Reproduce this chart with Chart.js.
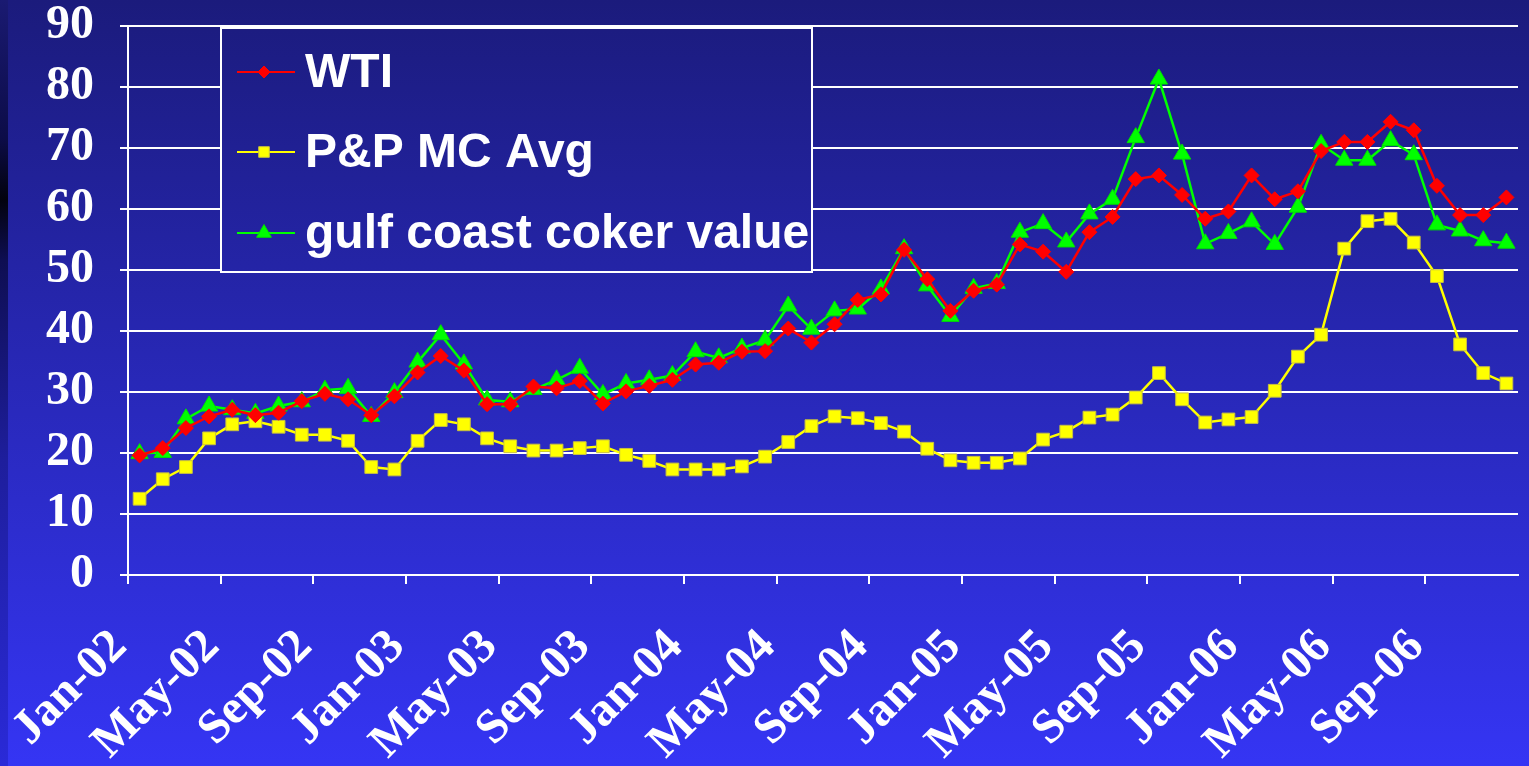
<!DOCTYPE html>
<html>
<head>
<meta charset="utf-8">
<script src="https://cdn.jsdelivr.net/npm/chart.js@4.4.1/dist/chart.umd.min.js"></script>
<style>
    html, body { margin: 0; padding: 0; background: #2626c0; overflow: hidden; }
    #wrap { position: relative; width: 1529px; height: 766px; }
</style>
</head>
<body>
<div id="wrap">
    <canvas id="oil-chart" width="1529" height="766"></canvas>
</div>
<script>
var months = [
    'Jan-02', 'Feb-02', 'Mar-02', 'Apr-02', 'May-02', 'Jun-02', 'Jul-02', 'Aug-02', 'Sep-02', 'Oct-02', 'Nov-02', 'Dec-02',
    'Jan-03', 'Feb-03', 'Mar-03', 'Apr-03', 'May-03', 'Jun-03', 'Jul-03', 'Aug-03', 'Sep-03', 'Oct-03', 'Nov-03', 'Dec-03',
    'Jan-04', 'Feb-04', 'Mar-04', 'Apr-04', 'May-04', 'Jun-04', 'Jul-04', 'Aug-04', 'Sep-04', 'Oct-04', 'Nov-04', 'Dec-04',
    'Jan-05', 'Feb-05', 'Mar-05', 'Apr-05', 'May-05', 'Jun-05', 'Jul-05', 'Aug-05', 'Sep-05', 'Oct-05', 'Nov-05', 'Dec-05',
    'Jan-06', 'Feb-06', 'Mar-06', 'Apr-06', 'May-06', 'Jun-06', 'Jul-06', 'Aug-06', 'Sep-06', 'Oct-06', 'Nov-06', 'Dec-06'
];

var wti = [
    19.6, 20.8, 24.1, 26.0, 27.1, 26.2, 26.6, 28.5, 29.7, 28.8, 26.2, 29.3,
    33.2, 35.9, 33.5, 28.0, 28.0, 30.9, 30.6, 31.8, 28.1, 30.1, 31.0, 32.0,
    34.5, 34.8, 36.6, 36.7, 40.4, 38.1, 41.1, 45.1, 46.0, 53.3, 48.5, 43.3,
    46.6, 47.6, 54.2, 53.0, 49.7, 56.2, 58.7, 64.9, 65.5, 62.3, 58.4, 59.6,
    65.5, 61.6, 62.9, 69.5, 71.0, 71.0, 74.3, 72.9, 63.8, 59.0, 59.0, 61.9
];

var ppMcAvg = [
    12.5, 15.7, 17.7, 22.4, 24.7, 25.2, 24.3, 23.0, 23.0, 22.0, 17.7, 17.3,
    22.0, 25.4, 24.7, 22.4, 21.1, 20.4, 20.4, 20.8, 21.1, 19.7, 18.7, 17.3,
    17.3, 17.3, 17.8, 19.4, 21.8, 24.4, 26.0, 25.7, 24.9, 23.5, 20.7, 18.8,
    18.4, 18.4, 19.1, 22.2, 23.5, 25.8, 26.3, 29.1, 33.1, 28.8, 25.0, 25.5,
    25.9, 30.2, 35.8, 39.4, 53.5, 58.0, 58.4, 54.5, 49.0, 37.8, 33.1, 31.4
];

var gulfCoker = [
    19.9, 20.1, 25.6, 27.7, 27.1, 26.5, 27.7, 28.4, 30.3, 30.6, 26.0, 29.9,
    34.9, 39.4, 34.6, 28.7, 28.4, 30.4, 32.0, 33.9, 29.6, 31.4, 32.0, 32.7,
    36.6, 35.6, 37.2, 38.5, 44.1, 40.3, 43.3, 43.6, 46.9, 53.5, 47.4, 42.4,
    47.0, 47.8, 56.2, 57.6, 54.6, 59.2, 61.6, 71.7, 81.3, 69.0, 54.3, 56.0,
    57.9, 54.2, 60.3, 70.6, 68.0, 68.0, 71.2, 68.9, 57.4, 56.4, 54.8, 54.4
];

var serifFont = "'Liberation Serif', 'Times New Roman', serif";
var sansFont = "'Liberation Sans', Arial, sans-serif";

function makeBackground(ctx, h) {
    var grad = ctx.createLinearGradient(0, 0, 0, h);
    grad.addColorStop(0, '#1b1b7c');
    grad.addColorStop(1, '#3535f4');
    return grad;
}

// slide background + dark left edge
var slideBackground = {
    id: 'slideBackground',
    beforeDraw: function (chart) {
        var ctx = chart.ctx;
        ctx.save();
        ctx.fillStyle = makeBackground(ctx, chart.height);
        ctx.fillRect(0, 0, chart.width, chart.height);
        var edge = ctx.createLinearGradient(0, 0, 0, chart.height);
        edge.addColorStop(0, '#1a1a72');
        edge.addColorStop(0.18, '#0c0c48');
        edge.addColorStop(0.26, '#02020e');
        edge.addColorStop(0.34, '#0e0e52');
        edge.addColorStop(0.6, '#1e1e9c');
        edge.addColorStop(1, '#2a2ad8');
        ctx.fillStyle = edge;
        ctx.fillRect(0, 0, 8, chart.height);
        ctx.restore();
    }
};

// boxed legend sitting inside the plot
var boxLegend = {
    id: 'boxLegend',
    afterDatasetsDraw: function (chart) {
        var ctx = chart.ctx;
        var left = 221, top = 28, right = 812, bottom = 272;
        ctx.save();
        ctx.fillStyle = makeBackground(ctx, chart.height);
        ctx.fillRect(left, top, right - left, bottom - top);
        ctx.strokeStyle = '#ffffff';
        ctx.lineWidth = 2;
        ctx.strokeRect(left, top, right - left, bottom - top);

        var rowY = [72, 152, 233];
        chart.data.datasets.forEach(function (ds, i) {
            var y = rowY[i];
            ctx.strokeStyle = ds.borderColor;
            ctx.lineWidth = 2;
            ctx.beginPath();
            ctx.moveTo(237, y);
            ctx.lineTo(295, y);
            ctx.stroke();
            ctx.fillStyle = ds.backgroundColor;
            ctx.strokeStyle = ds.pointBorderColor || ds.borderColor;
            ctx.lineWidth = 1;
            Chart.helpers.drawPoint(ctx, {
                pointStyle: ds.pointStyle,
                radius: ds.pointRadius - 1.5,
                rotation: 0,
                borderWidth: 1
            }, 264, y);
            ctx.fillStyle = '#ffffff';
            ctx.font = 'bold 48px ' + sansFont;
            ctx.textBaseline = 'middle';
            ctx.textAlign = 'left';
            ctx.fillText(ds.label, 305, y + 2);
        });
        ctx.restore();
    }
};

var ctx = document.getElementById('oil-chart');
var OilChart = new Chart(ctx, {
    type: 'line',
    data: {
        labels: months,
        datasets: [
            {
                label: 'WTI',
                data: wti,
                borderColor: '#ff0000',
                backgroundColor: '#ff0000',
                pointBorderColor: '#ff0000',
                borderWidth: 2.5,
                pointStyle: 'rectRot',
                pointRadius: 7.5,
                pointBorderWidth: 1,
                tension: 0
            },
            {
                label: 'P&P MC Avg',
                data: ppMcAvg,
                borderColor: '#ffff00',
                backgroundColor: '#ffff00',
                pointBorderColor: '#c8c040',
                borderWidth: 2.5,
                pointStyle: 'rect',
                pointRadius: 9,
                pointBorderWidth: 1,
                tension: 0
            },
            {
                label: 'gulf coast coker value',
                data: gulfCoker,
                borderColor: '#00ff00',
                backgroundColor: '#00ff00',
                pointBorderColor: '#00e000',
                borderWidth: 2.5,
                pointStyle: 'triangle',
                pointRadius: 10,
                pointBorderWidth: 1,
                tension: 0
            }
        ]
    },
    plugins: [slideBackground, boxLegend],
    options: {
        responsive: false,
        animation: false,
        devicePixelRatio: 1,
        layout: {
            padding: { top: 26, right: 4, left: 0, bottom: 0 }
        },
        plugins: {
            legend: { display: false },
            tooltip: { enabled: false }
        },
        scales: {
            x: {
                type: 'category',
                offset: true,
                afterFit: function (scale) {
                    scale.height = 191;
                    scale.paddingLeft = 0;
                    scale.paddingRight = 0;
                },
                grid: {
                    offset: true,
                    drawOnChartArea: false,
                    drawTicks: true,
                    tickLength: 9,
                    lineWidth: 2,
                    color: function (c) {
                        return c.index % 4 === 0 ? '#ffffff' : 'rgba(0,0,0,0)';
                    }
                },
                border: { color: '#ffffff', width: 2 },
                ticks: {
                    autoSkip: false,
                    minRotation: 45,
                    maxRotation: 45,
                    padding: 35,
                    labelOffset: -20,
                    color: '#ffffff',
                    font: { family: serifFont, size: 48, weight: 'bold' },
                    callback: function (value, index) {
                        return index % 4 === 0 ? this.getLabelForValue(value) : '';
                    }
                }
            },
            y: {
                min: 0,
                max: 90,
                afterFit: function (scale) {
                    scale.width = 128;
                    scale.paddingTop = 0;
                    scale.paddingBottom = 0;
                },
                grid: {
                    color: '#ffffff',
                    lineWidth: 2,
                    drawTicks: true,
                    tickLength: 8
                },
                border: { color: '#ffffff', width: 2 },
                ticks: {
                    autoSkip: false,
                    stepSize: 10,
                    padding: 26,
                    color: '#ffffff',
                    font: { family: serifFont, size: 48, weight: 'bold' }
                }
            }
        }
    }
});
</script>
</body>
</html>
